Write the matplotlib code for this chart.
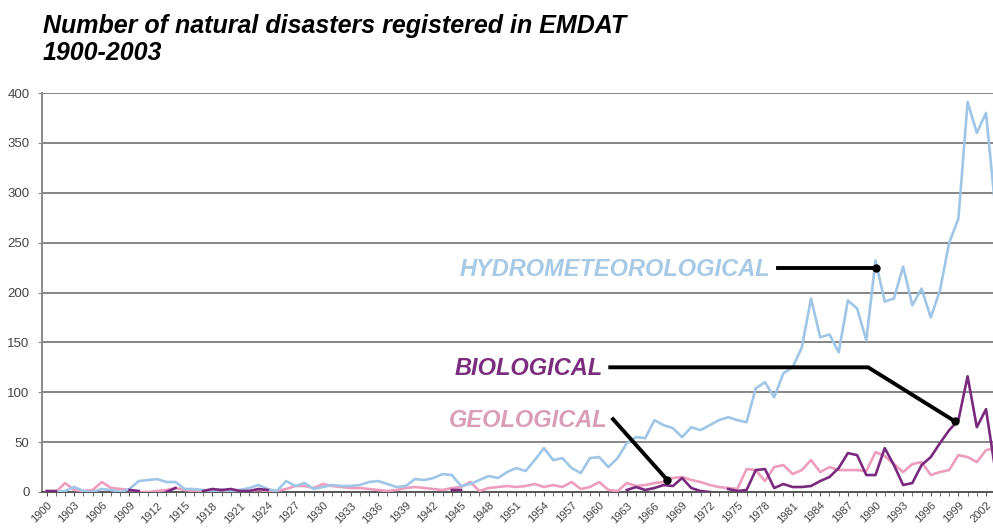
import numpy as np
import matplotlib
matplotlib.use('Agg')
import matplotlib.pyplot as plt
from matplotlib.ticker import MultipleLocator

plt.rcParams['font.family'] = ['Liberation Sans', 'DejaVu Sans']

nan = np.nan
years = np.arange(1900, 2004)

hydro = [0, 0, 1, 5, 1, 0, 3, 2, 0, 3,
         11, 12, 13, 10, 10, 3, 3, 2, 1, 2,
         1, 2, 4, 7, 3, 1, 11, 6, 9, 3,
         5, 7, 6, 6, 7, 10, 11, 8, 5, 6,
         13, 12, 14, 18, 17, 6, 8, 12, 16, 14,
         20, 24, 21, 32, 44, 32, 34, 24, 19, 34,
         35, 25, 34, 49, 55, 54, 72, 67, 64, 55,
         65, 62, 67, 72, 75, 72, 70, 104, 110, 95,
         119, 125, 145, 194, 155, 158, 140, 192, 184, 152,
         232, 191, 194, 226, 187, 204, 175, 202, 250, 274,
         391, 360, 380, 285]

geo = [0, 0, 9, 2, 1, 2, 10, 4, 3, 2,
       0, 0, 1, 2, 4, 2, 1, 1, 1, 2,
       1, 2, 1, 2, 1, 1, 3, 6, 6, 4,
       8, 6, 5, 4, 4, 3, 2, 1, 2, 4,
       5, 4, 3, 2, 4, 5, 10, 1, 4, 5,
       6, 5, 6, 8, 5, 7, 5, 10, 3, 5,
       10, 2, 1, 9, 6, 7, 9, 10, 14, 15,
       12, 10, 7, 5, 4, 3, 23, 22, 11, 25,
       27, 18, 22, 32, 20, 25, 22, 22, 22, 21,
       40, 36, 28, 20, 28, 30, 17, 20, 22, 37,
       35, 30, 42, 44]

bio = [1, 1, nan, nan, nan, nan, nan, nan, nan, 2,
       1, nan, nan, 0, 4, nan, nan, 1, 3, 2,
       3, 1, 1, 3, 2, nan, nan, nan, nan, nan,
       nan, nan, nan, nan, nan, nan, nan, nan, nan, nan,
       nan, nan, nan, nan, 2, 2, nan, nan, nan, nan,
       nan, nan, nan, nan, nan, nan, nan, nan, nan, nan,
       nan, nan, nan, 2, 5, 2, 4, 7, 6, 14,
       4, 1, 0, nan, 3, 1, 2, 22, 23, 4,
       8, 5, 5, 6, 11, 15, 24, 39, 37, 17,
       17, 44, 27, 7, 9, 27, 35, 49, 62, 72,
       116, 65, 83, 22]

c_hydro = '#9fc6e6'
c_bio = '#7a2a7e'
c_geo = '#ee9dbd'

fig = plt.figure(figsize=(9.93, 5.31), dpi=100)
ax = fig.add_axes([42/993, 1-492/531, 104*9.21/993, 399/531])

ax.set_xlim(1899.5, 2003.5)
ax.set_ylim(0, 400)
ax.set_yticks(np.arange(0, 401, 50))
for v in range(50, 401, 50):
    ax.axhline(v, color='#858585', lw=1.4, zorder=1)

ax.plot(years, geo, color=c_geo, lw=1.9, zorder=3)
ax.plot(years, hydro, color=c_hydro, lw=1.9, zorder=3)
ax.plot(years, bio, color=c_bio, lw=1.9, zorder=4)

ax.xaxis.set_minor_locator(MultipleLocator(1))
ax.set_xticks(np.arange(1900, 2004, 3))
ax.set_xticklabels([str(y) for y in range(1900, 2004, 3)], rotation=45,
                   ha='right', rotation_mode='anchor', fontsize=8, color='#444444')
ax.tick_params(axis='x', which='both', direction='out', length=3, color='#555555', pad=3)
ax.tick_params(axis='y', direction='out', length=3, color='#888888', labelsize=9.5,
               labelcolor='#444444', pad=6)

for s in ['top', 'right']:
    ax.spines[s].set_visible(False)
ax.spines['left'].set_color('#8a8a8a')
ax.spines['left'].set_linewidth(1.4)
ax.spines['bottom'].set_color('#555555')
ax.spines['bottom'].set_linewidth(1.4)

lab = dict(fontsize=17, fontweight='bold', style='italic', ha='right', va='center', zorder=6)
ax.text(1978.6, 223, 'HYDROMETEOROLOGICAL', color='#a6c9e6', **lab)
ax.text(1960.4, 124, 'BIOLOGICAL', color='#7b2c7e', **lab)
ax.text(1960.9, 72, 'GEOLOGICAL', color='#d99db5', **lab)

ax.plot([1979.4, 1990.0], [225, 225], color='black', lw=2.8, zorder=7)
ax.plot([1990.0], [225], 'o', color='black', ms=5, zorder=7)
ax.plot([1961.2, 1989.2, 1998.6], [125, 125, 71], color='black', lw=2.8, zorder=7)
ax.plot([1998.6], [71], 'o', color='black', ms=5, zorder=7)
ax.plot([1961.5, 1967.4], [73, 12], color='black', lw=2.8, zorder=7)
ax.plot([1967.4], [12], 'o', color='black', ms=5, zorder=7)

fig.text(43/993, 1-14/531, 'Number of natural disasters registered in EMDAT\n1900-2003',
         ha='left', va='top', fontsize=18, fontweight='bold', style='italic',
         color='black', linespacing=1.17)

fig.savefig('out.png', dpi=100)
